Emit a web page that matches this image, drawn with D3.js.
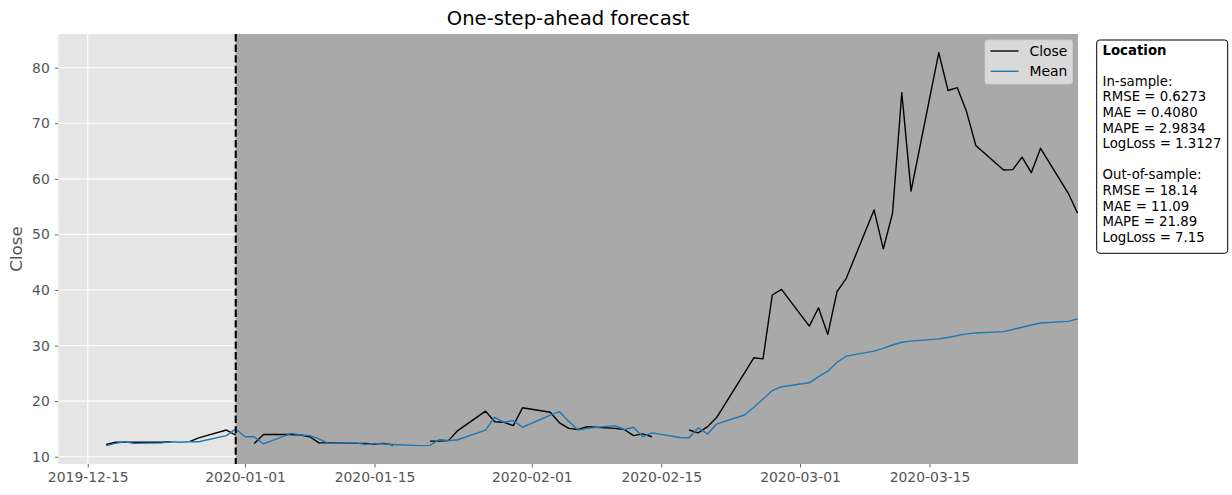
<!DOCTYPE html>
<html>
<head>
<meta charset="utf-8">
<script src="https://cdn.jsdelivr.net/npm/d3@7"></script>
<style>
  html, body { margin: 0; padding: 0; background: #ffffff; }
  svg { display: block; font-family: "DejaVu Sans", sans-serif; }
</style>
</head>
<body>
<svg id="chart" width="1232" height="495"></svg>
<script>
// Business-day index (holidays kept, with no Close on them)
const dates = [
  "2019-12-17","2019-12-18","2019-12-19","2019-12-20","2019-12-23","2019-12-24","2019-12-25","2019-12-26","2019-12-27","2019-12-30","2019-12-31",
  "2020-01-01","2020-01-02","2020-01-03","2020-01-06","2020-01-07","2020-01-08","2020-01-09","2020-01-10","2020-01-13","2020-01-14","2020-01-15","2020-01-16","2020-01-17","2020-01-20","2020-01-21","2020-01-22","2020-01-23","2020-01-24","2020-01-27","2020-01-28","2020-01-29","2020-01-30","2020-01-31",
  "2020-02-03","2020-02-04","2020-02-05","2020-02-06","2020-02-07","2020-02-10","2020-02-11","2020-02-12","2020-02-13","2020-02-14","2020-02-17","2020-02-18","2020-02-19","2020-02-20","2020-02-21","2020-02-24","2020-02-25","2020-02-26","2020-02-27","2020-02-28",
  "2020-03-02","2020-03-03","2020-03-04","2020-03-05","2020-03-06","2020-03-09","2020-03-10","2020-03-11","2020-03-12","2020-03-13","2020-03-16","2020-03-17","2020-03-18","2020-03-19","2020-03-20","2020-03-23","2020-03-24","2020-03-25","2020-03-26","2020-03-27","2020-03-30","2020-03-31"
];

// Observed closing price
const closeValues = [
  12.2, 12.6, 12.6, 12.6, 12.6, 12.7, null, 12.7, 13.4, 14.8, 13.9,
  null, 12.4, 14.0, 14.0, 13.9, 13.6, 12.5, 12.5, 12.4, 12.4, 12.3, 12.4, 12.1, null, 12.8, 12.8, 12.9, 14.7, 18.2, 16.3, 16.2, 15.6, 18.8,
  18.0, 16.1, 15.1, 14.9, 15.4, 15.1, 14.9, 13.8, 14.1, 13.6, null, 14.8, 14.3, 15.4, 17.1, 25.1, 27.8, 27.6, 39.1, 40.1,
  33.5, 36.8, 32.0, 39.7, 42.1, 54.4, 47.4, 53.8, 75.5, 57.8, 82.7, 75.9, 76.4, 72.1, 66.0, 61.6, 61.65, 63.9, 61.1, 65.5, 57.4, 53.8
];

// One-step-ahead predictive mean
const meanValues = [
  12.0, 12.4, 12.7, 12.4, 12.5, 12.7, 12.6, 12.7, 12.7, 13.8, 15.0,
  13.6, 13.6, 12.3, 14.2, 13.9, 13.8, 13.2, 12.4, 12.5, 12.2, 12.4, 12.3, 12.2, 12.0, 12.05, 13.1, 12.9, 13.05, 14.8, 17.1, 16.2, 16.5, 15.3,
  17.5, 18.1, 16.4, 14.8, 15.1, 15.6, 14.9, 15.3, 13.6, 14.3, 13.45, 13.4, 15.2, 14.1, 15.9, 17.5, 18.9, 20.4, 21.9, 22.6,
  23.3, 24.4, 25.4, 27.0, 28.1, 29.0, 29.5, 30.1, 30.6, 30.8, 31.2, 31.45, 31.8, 32.1, 32.25, 32.5, 32.9, 33.3, 33.7, 34.05, 34.35, 34.8
];

const xTickDates = ["2019-12-15","2020-01-01","2020-01-15","2020-02-01","2020-02-15","2020-03-01","2020-03-15"];
const yTicks = [10, 20, 30, 40, 50, 60, 70, 80];
const splitDate = "2019-12-31";

const statsLines = [
  { text: "Location", bold: true },
  { text: "" },
  { text: "In-sample:" },
  { text: "RMSE = 0.6273" },
  { text: "MAE = 0.4080" },
  { text: "MAPE = 2.9834" },
  { text: "LogLoss = 1.3127" },
  { text: "" },
  { text: "Out-of-sample:" },
  { text: "RMSE = 18.14" },
  { text: "MAE = 11.09" },
  { text: "MAPE = 21.89" },
  { text: "LogLoss = 7.15" }
];

const parse = d3.utcParse("%Y-%m-%d");
const fmt = d3.utcFormat("%Y-%m-%d");

const rows = dates.map((d, i) => ({ date: parse(d), close: closeValues[i], mean: meanValues[i] }));

const svg = d3.select("#chart");
const plot = { left: 58.3, right: 1078, top: 34, bottom: 464 };

const x = d3.scaleUtc()
  .domain([new Date(Date.UTC(2019, 11, 11, 19, 40)), new Date(Date.UTC(2020, 2, 31, 1, 10))])
  .range([plot.left, plot.right]);
const y = d3.scaleLinear()
  .domain([8.69, 86.06])
  .range([plot.bottom, plot.top]);

const clipId = "plot-clip";
svg.append("defs").append("clipPath").attr("id", clipId)
  .append("rect")
  .attr("x", plot.left).attr("y", plot.top)
  .attr("width", plot.right - plot.left).attr("height", plot.bottom - plot.top);

// Axes background
svg.append("rect")
  .attr("x", plot.left).attr("y", plot.top)
  .attr("width", plot.right - plot.left).attr("height", plot.bottom - plot.top)
  .attr("fill", "#e5e5e5");

// Grid
const grid = svg.append("g").attr("clip-path", `url(#${clipId})`);
grid.selectAll("line.hgrid").data(yTicks).join("line")
  .attr("class", "hgrid")
  .attr("x1", plot.left).attr("x2", plot.right)
  .attr("y1", d => y(d)).attr("y2", d => y(d))
  .attr("stroke", "#ffffff").attr("stroke-width", 1.1);
grid.selectAll("line.vgrid").data(xTickDates).join("line")
  .attr("class", "vgrid")
  .attr("x1", d => x(parse(d))).attr("x2", d => x(parse(d)))
  .attr("y1", plot.top).attr("y2", plot.bottom)
  .attr("stroke", "#ffffff").attr("stroke-width", 1.1);

// Out-of-sample shading
const splitX = x(parse(splitDate));
svg.append("rect")
  .attr("x", splitX).attr("y", plot.top)
  .attr("width", plot.right - splitX).attr("height", plot.bottom - plot.top)
  .attr("fill", "#a9a9a9");

// Series
const series = svg.append("g").attr("clip-path", `url(#${clipId})`);
const closeLine = d3.line()
  .defined(d => d.close != null)
  .x(d => x(d.date)).y(d => y(d.close));
const meanLine = d3.line()
  .defined(d => d.mean != null)
  .x(d => x(d.date)).y(d => y(d.mean));

series.append("path").datum(rows)
  .attr("d", closeLine)
  .attr("fill", "none").attr("stroke", "#000000").attr("stroke-width", 1.4)
  .attr("stroke-linejoin", "round");
series.append("path").datum(rows)
  .attr("d", meanLine)
  .attr("fill", "none").attr("stroke", "#1f77b4").attr("stroke-width", 1.4)
  .attr("stroke-linejoin", "round");

// Train / test split marker
svg.append("line")
  .attr("x1", splitX).attr("x2", splitX)
  .attr("y1", plot.top).attr("y2", plot.bottom)
  .attr("stroke", "#000000").attr("stroke-width", 2.1)
  .attr("stroke-dasharray", "7.4,3.2");

// Axes
const xAxis = d3.axisBottom(x)
  .tickValues(xTickDates.map(parse))
  .tickFormat(fmt)
  .tickSize(3.5).tickPadding(5);
const gx = svg.append("g").attr("transform", `translate(0,${plot.bottom})`).call(xAxis);
gx.select(".domain").remove();
gx.selectAll(".tick line").attr("stroke", "#555555").attr("stroke-width", 0.9);
gx.selectAll(".tick text")
  .attr("fill", "#555555")
  .style("font-size", "13.9px")
  .style("font-family", "DejaVu Sans");

const yAxis = d3.axisLeft(y).tickValues(yTicks).tickSize(3.5).tickPadding(5);
const gy = svg.append("g").attr("transform", `translate(${plot.left},0)`).call(yAxis);
gy.select(".domain").remove();
gy.selectAll(".tick line").attr("stroke", "#555555").attr("stroke-width", 0.9);
gy.selectAll(".tick text")
  .attr("fill", "#555555")
  .style("font-size", "13.9px")
  .style("font-family", "DejaVu Sans");

// Axis label and title
svg.append("text")
  .attr("transform", `translate(22,${(plot.top + plot.bottom) / 2}) rotate(-90)`)
  .attr("text-anchor", "middle")
  .attr("fill", "#555555")
  .style("font-size", "16.7px")
  .text("Close");

svg.append("text")
  .attr("x", (plot.left + plot.right) / 2).attr("y", 25)
  .attr("text-anchor", "middle")
  .attr("fill", "#000000")
  .style("font-size", "19.6px")
  .text("One-step-ahead forecast");

// Legend
const legendItems = [
  { label: "Close", color: "#000000" },
  { label: "Mean", color: "#1f77b4" }
];
const legend = svg.append("g");
legend.append("rect")
  .attr("x", 985).attr("y", 40).attr("width", 87.5).attr("height", 44)
  .attr("rx", 2.5)
  .attr("fill", "rgba(229,229,229,0.8)")
  .attr("stroke", "rgba(204,204,204,0.8)").attr("stroke-width", 1);
legendItems.forEach((item, i) => {
  const cy = 51 + i * 20.3;
  legend.append("line")
    .attr("x1", 990.5).attr("x2", 1018.5)
    .attr("y1", cy).attr("y2", cy)
    .attr("stroke", item.color).attr("stroke-width", 1.4);
  legend.append("text")
    .attr("x", 1029.5).attr("y", cy + 5)
    .attr("fill", "#000000")
    .style("font-size", "13.9px")
    .text(item.label);
});

// Metrics box
const box = svg.append("g");
box.append("rect")
  .attr("x", 1096.7).attr("y", 40).attr("width", 131).attr("height", 213.3)
  .attr("rx", 3)
  .attr("fill", "#ffffff").attr("stroke", "#000000").attr("stroke-width", 1);
box.selectAll("text").data(statsLines).join("text")
  .attr("x", 1102.5)
  .attr("y", (d, i) => 54.5 + i * 15.6)
  .attr("fill", "#000000")
  .style("font-size", "13.3px")
  .style("font-weight", d => d.bold ? "bold" : "normal")
  .text(d => d.text);
</script>
</body>
</html>
